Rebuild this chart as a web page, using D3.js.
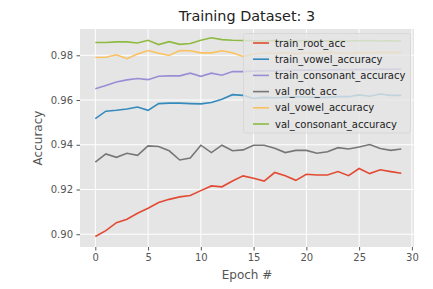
<!DOCTYPE html>
<html>
<head>
<meta charset="utf-8">
<script src="https://cdn.jsdelivr.net/npm/d3@7"></script>
<style>
  body { margin: 0; background: #fff; }
  text { font-family: "DejaVu Sans", sans-serif; }
</style>
</head>
<body>
<div class="container"></div>
<script>
var epochs = d3.range(0, 30);

var train_root_acc = [0.8990, 0.9016, 0.9052, 0.9067, 0.9094, 0.9116, 0.9142, 0.9156, 0.9167, 0.9173,
  0.9195, 0.9216, 0.9212, 0.9238, 0.9261, 0.9250, 0.9238, 0.9276, 0.9261, 0.9241,
  0.9268, 0.9265, 0.9265, 0.9280, 0.9262, 0.9294, 0.9271, 0.9288, 0.9280, 0.9273];
var train_vowel_accuracy = [0.9517, 0.9550, 0.9554, 0.9560, 0.9569, 0.9554, 0.9584, 0.9586, 0.9586, 0.9584,
  0.9583, 0.9589, 0.9603, 0.9624, 0.9621, 0.9607, 0.9612, 0.9610, 0.9612, 0.9615,
  0.9613, 0.9612, 0.9612, 0.9615, 0.9615, 0.9623, 0.9617, 0.9627, 0.9621, 0.9621];
var train_consonant_accuracy = [0.9650, 0.9665, 0.9681, 0.9690, 0.9696, 0.9691, 0.9706, 0.9708, 0.9708, 0.9720,
  0.9706, 0.9720, 0.9711, 0.9727, 0.9727, 0.9729, 0.9731, 0.9730, 0.9732, 0.9733,
  0.9734, 0.9733, 0.9735, 0.9736, 0.9735, 0.9737, 0.9736, 0.9738, 0.9737, 0.9738];
var val_root_acc = [0.9322, 0.9359, 0.9344, 0.9362, 0.9353, 0.9395, 0.9392, 0.9373, 0.9332, 0.9341,
  0.9398, 0.9365, 0.9398, 0.9373, 0.9377, 0.9398, 0.9398, 0.9384, 0.9365, 0.9375,
  0.9375, 0.9362, 0.9369, 0.9387, 0.9381, 0.9390, 0.9401, 0.9383, 0.9375, 0.9381];
var val_vowel_accuracy = [0.9790, 0.9791, 0.9802, 0.9785, 0.9806, 0.9821, 0.9809, 0.9799, 0.9821, 0.9820,
  0.9811, 0.9811, 0.9820, 0.9811, 0.9795, 0.9805, 0.9810, 0.9808, 0.9812, 0.9806,
  0.9811, 0.9809, 0.9813, 0.9810, 0.9808, 0.9812, 0.9811, 0.9814, 0.9812, 0.9813];
var val_consonant_accuracy = [0.9857, 0.9857, 0.9860, 0.9860, 0.9855, 0.9867, 0.9848, 0.9861, 0.9849, 0.9853,
  0.9867, 0.9878, 0.9870, 0.9867, 0.9866, 0.9865, 0.9864, 0.9866, 0.9863, 0.9865,
  0.9866, 0.9864, 0.9865, 0.9866, 0.9864, 0.9865, 0.9866, 0.9864, 0.9865, 0.9864];

var seriesNames = ["train_root_acc", "train_vowel_accuracy", "train_consonant_accuracy",
  "val_root_acc", "val_vowel_accuracy", "val_consonant_accuracy"];
var seriesValues = [train_root_acc, train_vowel_accuracy, train_consonant_accuracy,
  val_root_acc, val_vowel_accuracy, val_consonant_accuracy];
var colors = ["#E24A33", "#348ABD", "#988ED5", "#777777", "#FBC15E", "#8EBA42"];

var xTicks = [0, 5, 10, 15, 20, 25, 30];
var yTicks = [0.90, 0.92, 0.94, 0.96, 0.98];

buildChart();

function buildChart() {

  /* ===== SET UP CHART =====*/
  var w = 433, h = 289;
  var plot = {left: 80, right: 414, top: 29, bottom: 247};

  var svg = d3.select('.container')
    .append('svg')
    .attr('width', w)
    .attr('height', h);

  var xScale = d3.scaleLinear()
    .domain([-1.45, 30.2])
    .range([plot.left, plot.right]);

  var yScale = d3.scaleLinear()
    .domain([0.8943, 0.99175])
    .range([plot.bottom, plot.top]);

  svg.append('rect')
    .attr('x', plot.left)
    .attr('y', plot.top)
    .attr('width', plot.right - plot.left)
    .attr('height', plot.bottom - plot.top)
    .attr('fill', '#E5E5E5');

  /* --- grid --- */
  svg.append('g').selectAll('line')
    .data(xTicks)
    .enter().append('line')
    .attr('x1', function(d) { return xScale(d); })
    .attr('x2', function(d) { return xScale(d); })
    .attr('y1', plot.top)
    .attr('y2', plot.bottom)
    .attr('stroke', '#fff')
    .attr('stroke-width', 1);

  svg.append('g').selectAll('line')
    .data(yTicks)
    .enter().append('line')
    .attr('x1', plot.left)
    .attr('x2', plot.right)
    .attr('y1', function(d) { return yScale(d); })
    .attr('y2', function(d) { return yScale(d); })
    .attr('stroke', '#fff')
    .attr('stroke-width', 1);

  /* --- axes --- */
  var xAxis = d3.axisBottom(xScale)
    .tickValues(xTicks)
    .tickSize(3.5)
    .tickPadding(3.5)
    .tickFormat(d3.format('d'));

  var yAxis = d3.axisLeft(yScale)
    .tickValues(yTicks)
    .tickSize(3.5)
    .tickPadding(3.5)
    .tickFormat(d3.format('.2f'));

  var gx = svg.append('g')
    .attr('transform', 'translate(0,' + plot.bottom + ')')
    .call(xAxis);
  var gy = svg.append('g')
    .attr('transform', 'translate(' + plot.left + ',0)')
    .call(yAxis);

  [gx, gy].forEach(function(g) {
    g.select('.domain').remove();
    g.selectAll('line').attr('stroke', '#555');
    g.selectAll('text')
      .attr('fill', '#555')
      .style('font-size', '10px')
      .style('font-family', 'DejaVu Sans, sans-serif');
  });

  /* --- lines --- */
  var line = d3.line()
    .x(function(d, i) { return xScale(epochs[i]); })
    .y(function(d) { return yScale(d); });

  svg.append('g').selectAll('path')
    .data(seriesValues)
    .enter().append('path')
    .attr('d', line)
    .attr('fill', 'none')
    .attr('stroke', function(d, i) { return colors[i]; })
    .attr('stroke-width', 1.6);

  /* ===== LABELS =====*/
  svg.append('text')
    .attr('x', (plot.left + plot.right) / 2)
    .attr('y', 21)
    .attr('text-anchor', 'middle')
    .attr('fill', '#222')
    .style('font-size', '14.4px')
    .text('Training Dataset: 3');

  svg.append('text')
    .attr('x', (plot.left + plot.right) / 2)
    .attr('y', 279)
    .attr('text-anchor', 'middle')
    .attr('fill', '#555')
    .style('font-size', '12px')
    .text('Epoch #');

  svg.append('text')
    .attr('transform', 'translate(42,' + ((plot.top + plot.bottom) / 2) + ') rotate(-90)')
    .attr('text-anchor', 'middle')
    .attr('fill', '#555')
    .style('font-size', '12px')
    .text('Accuracy');

  /* ===== LEGEND ===== */
  var leg = svg.append('g');
  leg.append('rect')
    .attr('x', 243.5)
    .attr('y', 33.5)
    .attr('width', 167)
    .attr('height', 99.5)
    .attr('rx', 2)
    .attr('fill', '#E5E5E5')
    .attr('fill-opacity', 0.8)
    .attr('stroke', '#d4d4d4')
    .attr('stroke-opacity', 0.8);

  var items = leg.selectAll('g.item')
    .data(seriesNames)
    .enter().append('g')
    .attr('transform', function(d, i) { return 'translate(0,' + (43 + i * 16.2) + ')'; });

  items.append('line')
    .attr('x1', 253)
    .attr('x2', 269)
    .attr('y1', 0)
    .attr('y2', 0)
    .attr('stroke', function(d, i) { return colors[i]; })
    .attr('stroke-width', 1.6);

  items.append('text')
    .attr('x', 275)
    .attr('y', 3.5)
    .attr('fill', '#222')
    .style('font-size', '10px')
    .text(function(d) { return d; });
}
</script>
</body>
</html>
